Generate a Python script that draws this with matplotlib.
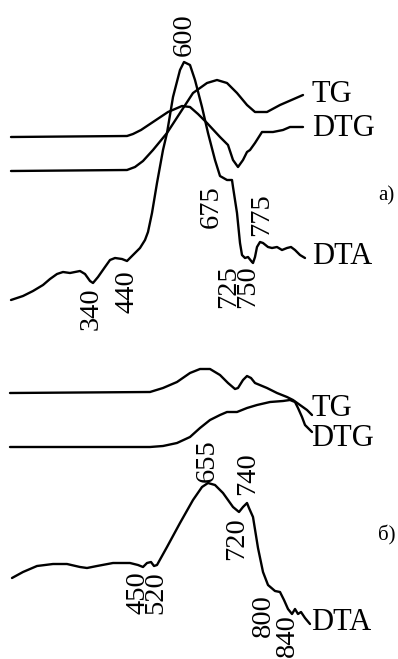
#!/usr/bin/env python3
"""Thermal analysis curves (TG / DTG / DTA) for two samples, a) and б)."""
import matplotlib

matplotlib.use("Agg")
import matplotlib.pyplot as plt

# traced curves: x position along the heating axis, value = upward deflection
# panel a)
a_tg_x = [11, 127, 135, 143, 153, 167, 180, 193, 207, 217, 227, 237, 247, 255, 267, 280, 303]
a_tg_v = [0, 1, 4, 10, 21, 38, 58, 78, 88, 91, 88, 78, 66, 59, 59, 66, 76]

a_dtg_x = [11, 127, 133, 141, 156, 168, 182, 190, 198, 207, 220, 228, 233, 238, 243, 247,
           250, 255, 262, 273, 283, 290, 303]
a_dtg_v = [0, 1, 3, 7, 17, 25, 31, 30, 23, 14, 0, -8, -23, -30, -23, -15,
           -13, -6, 5, 5, 7, 10, 10]

a_dta_x = [11, 23, 33, 43, 50, 57, 63, 70, 80, 85, 90, 93, 98, 105, 110, 115, 122, 127,
           133, 140, 145, 148, 152, 157, 163, 167, 173, 180, 184, 190, 195, 202, 208,
           215, 220, 227, 232, 233, 237, 240, 242, 245, 248, 252, 253, 255, 257, 260,
           263, 268, 272, 277, 282, 287, 291, 295, 300, 305]
a_dta_v = [-2, 2, 7, 13, 19, 24, 26, 25, 27, 24, 17, 15, 21, 31, 38, 40, 39, 37,
           43, 50, 58, 66, 85, 115, 148, 165, 201, 228, 236, 233, 218, 191, 165,
           138, 122, 118, 118, 111, 85, 55, 43, 40, 41, 36, 35, 41, 51, 56,
           55, 51, 50, 51, 48, 50, 51, 48, 43, 40]

# panel б)
b_tg_x = [10, 150, 163, 177, 190, 200, 210, 220, 228, 235, 238, 243, 247, 251, 255, 267,
          277, 287, 293, 300, 307, 312]
b_tg_v = [0, 1, 5, 11, 20, 24, 24, 18, 10, 4, 5, 13, 17, 15, 10, 5,
          0, -4, -7, -12, -17, -22]

b_dtg_x = [10, 150, 163, 177, 190, 200, 210, 220, 227, 237, 247, 257, 270, 283, 290, 295,
           298, 302, 305, 312]
b_dtg_v = [0, 0, 1, 4, 10, 19, 27, 32, 35, 35, 39, 42, 45, 46, 47, 45,
           39, 30, 22, 15]

b_dta_x = [12, 23, 37, 53, 67, 80, 87, 97, 113, 130, 138, 143, 147, 151, 154, 157, 167,
           180, 193, 202, 208, 215, 223, 233, 239, 243, 247, 249, 253, 258, 263, 268,
           275, 280, 284, 288, 292, 295, 298, 301, 305, 310]
b_dta_v = [0, 6, 12, 14, 14, 11, 10, 12, 15, 15, 13, 11, 15, 16, 12, 13, 31,
           55, 78, 91, 95, 93, 85, 71, 66, 71, 75, 70, 61, 30, 6, -7,
           -13, -14, -22, -31, -36, -31, -36, -34, -40, -46]

# peak temperatures written next to the DTA curves (stacked pairs share one label)
a_peaks = ["600", "675", "775", "725\n750", "340", "440"]
b_peaks = ["655", "740", "720", "450\n520", "800", "840"]
curve_names = ["TG", "DTG", "DTA"]
panel_names = ["a)", "б)"]

W, H = 398, 659
SERIF = ["Liberation Serif", "DejaVu Serif"]

fig = plt.figure(figsize=(W / 100, H / 100), dpi=100)
ax = fig.add_axes([0, 0, 1, 1])
ax.set_xlim(0, W)
ax.set_ylim(H, 0)
ax.axis("off")

# baselines (pixel rows) for each trace
curves = [
    (a_tg_x, a_tg_v, 171),
    (a_dtg_x, a_dtg_v, 137),
    (a_dta_x, a_dta_v, 298),
    (b_tg_x, b_tg_v, 393),
    (b_dtg_x, b_dtg_v, 447),
    (b_dta_x, b_dta_v, 578),
]
for xs, vs, base in curves:
    ax.plot(xs, [base - v for v in vs], color="black", lw=1.7,
            solid_joinstyle="round", solid_capstyle="round")

# rotated peak labels
a_pos = [(184, 35), (211, 207), (262, 215), (238, 287), (91, 309), (127, 292)]
b_pos = [(207, 461), (248, 474), (237, 539), (147, 593), (263, 616), (287, 636)]
for labels, pos in ((a_peaks, a_pos), (b_peaks, b_pos)):
    for s, (x, y) in zip(labels, pos):
        ax.text(x, y, s, rotation=90, ha="center", va="center",
                fontsize=20.5, family=SERIF, linespacing=0.66,
                multialignment="center")

# curve names
a_name_y = [95, 128, 257]
b_name_y = [408, 438, 623]
for ys, x0 in ((a_name_y, 312), (b_name_y, 311)):
    for s, y in zip(curve_names, ys):
        ax.text(x0, y, s, ha="left", va="center", fontsize=22, family=SERIF)

for s, (x, y) in zip(panel_names, [(386, 196), (387, 535)]):
    ax.text(x, y, s, ha="center", va="center", fontsize=15, family=SERIF)

fig.savefig("out.png", dpi=100, facecolor="white")
plt.close(fig)
